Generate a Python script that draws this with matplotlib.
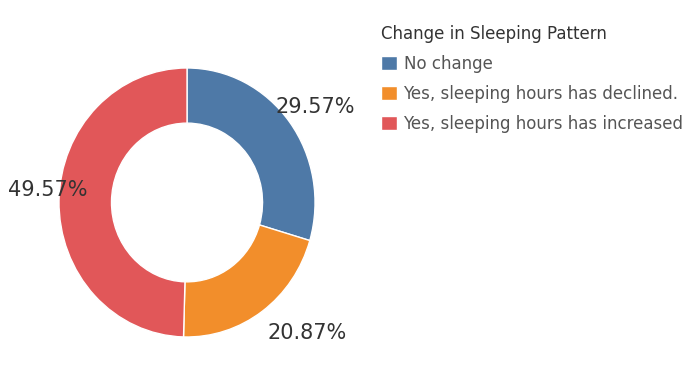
import matplotlib.pyplot as plt

# share of respondents by change in sleeping pattern
categories = ["No change", "Yes, sleeping hours has declined.", "Yes, sleeping hours has increased"]
shares = [29.57, 20.87, 49.57]
colors = ["#4e79a7", "#f28e2b", "#e15759"]

# where each percentage label sits (data units of the donut axes)
label_pos = [(1.00, 0.71), (0.94, -0.97), (-1.09, 0.09)]

fig = plt.figure(figsize=(6.91, 3.80), dpi=100)
ax = fig.add_axes([0.0854, 0.1132, 0.3705, 0.7079])

wedges, _ = ax.pie(shares, colors=colors, startangle=90, counterclock=False,
                   radius=1, wedgeprops=dict(width=0.41, edgecolor="white", linewidth=1))
ax.set_aspect("auto")
ax.set_xlim(-1, 1)
ax.set_ylim(-1, 1)
ax.axis("off")

for v, (x, y) in zip(shares, label_pos):
    ax.text(x, y, f"{v:.2f}%", ha="center", va="center", fontsize=15,
            color="#333333", clip_on=False)

leg = fig.legend(wedges, categories, title="Change in Sleeping Pattern",
                 loc="upper left", bbox_to_anchor=(381 / 691, 1 - 25 / 380),
                 frameon=False, fontsize=12, title_fontsize=12,
                 handlelength=0.95, handleheight=0.95, handletextpad=0.4,
                 labelspacing=0.72, borderaxespad=0, borderpad=0)
leg._legend_box.align = "left"
for t in leg.get_texts():
    t.set_color("#555555")
leg.get_title().set_color("#333333")

fig.savefig("out.png", dpi=100)
